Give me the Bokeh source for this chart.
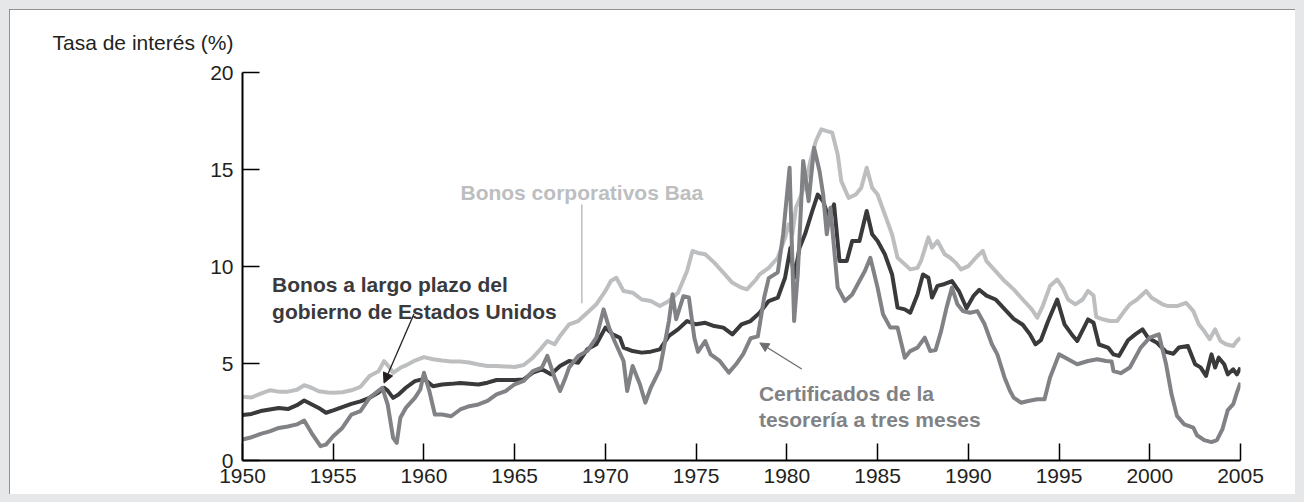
from bokeh.plotting import figure
from bokeh.models import ColumnDataSource, FixedTicker, Label, Arrow, NormalHead
from bokeh.embed import file_html
from bokeh.resources import INLINE

# ---------------- data ----------------
baa_years = [1950.0, 1950.5, 1951.0, 1951.5, 1952.0, 1952.5, 1953.0, 1953.4, 1953.8, 1954.2,
             1954.7, 1955.0, 1955.5, 1956.0, 1956.5, 1957.0, 1957.5, 1957.8, 1958.1, 1958.3,
             1958.7, 1959.0, 1959.5, 1960.0, 1960.5, 1961.0, 1961.5, 1962.0, 1962.5, 1963.0,
             1963.5, 1964.0, 1964.5, 1965.0, 1965.5, 1966.0, 1966.5, 1966.8, 1967.2, 1967.5,
             1968.0, 1968.5, 1969.0, 1969.5, 1970.0, 1970.3, 1970.6, 1971.0, 1971.5, 1972.0,
             1972.5, 1973.0, 1973.5, 1974.0, 1974.5, 1974.8, 1975.1, 1975.5, 1976.0, 1976.5,
             1977.0, 1977.5, 1977.8, 1978.3, 1978.5, 1979.0, 1979.5, 1979.9, 1980.1, 1980.3,
             1980.5, 1980.8, 1981.0, 1981.3, 1981.6, 1981.9, 1982.2, 1982.5, 1982.8, 1983.0,
             1983.4, 1983.8, 1984.1, 1984.4, 1984.7, 1985.0, 1985.4, 1985.8, 1986.1, 1986.4,
             1986.8, 1987.2, 1987.4, 1987.8, 1988.0, 1988.3, 1988.7, 1989.0, 1989.3, 1989.6,
             1990.0, 1990.5, 1990.8, 1991.0, 1991.5, 1992.0, 1992.5, 1993.0, 1993.5, 1993.8,
             1994.1, 1994.5, 1994.9, 1995.2, 1995.5, 1995.9, 1996.3, 1996.6, 1996.9, 1997.05,
             1997.4, 1997.8, 1998.2, 1998.6, 1998.9, 1999.3, 1999.8, 2000.1, 2000.4, 2000.7,
             2001.0, 2001.5, 2002.0, 2002.4, 2002.7, 2003.0, 2003.3, 2003.6, 2003.9, 2004.2,
             2004.6, 2004.8, 2005.0]
baa = [3.28, 3.25, 3.45, 3.62, 3.55, 3.55, 3.65, 3.88, 3.75, 3.57,
       3.50, 3.49, 3.52, 3.62, 3.80, 4.35, 4.60, 5.12, 4.80, 4.52,
       4.78, 4.90, 5.15, 5.33, 5.22, 5.15, 5.10, 5.10, 5.05, 4.95,
       4.87, 4.87, 4.85, 4.82, 4.92, 5.30, 5.82, 6.16, 5.99, 6.42,
       7.02, 7.19, 7.62, 8.05, 8.74, 9.25, 9.42, 8.74, 8.65, 8.30,
       8.22, 7.96, 8.22, 8.65, 9.77, 10.80, 10.70, 10.63, 10.20, 9.68,
       9.16, 8.91, 8.82, 9.33, 9.59, 9.93, 10.45, 11.48, 12.17, 11.65,
       13.03, 13.71, 14.23, 15.44, 16.47, 17.07, 16.98, 16.90, 15.78, 14.40,
       13.54, 13.71, 14.06, 15.09, 14.06, 13.71, 12.68, 11.65, 10.45, 10.20,
       9.85, 9.93, 10.30, 11.50, 10.97, 11.31, 10.63, 10.45, 10.20, 9.85,
       10.02, 10.54, 10.80, 10.28, 9.76, 9.25, 8.82, 8.30, 7.79, 7.36,
       7.96, 8.99, 9.33, 8.91, 8.30, 8.05, 8.30, 8.74, 8.50, 7.40,
       7.28, 7.19, 7.19, 7.70, 8.05, 8.30, 8.74, 8.39, 8.22, 8.05,
       7.96, 7.96, 8.13, 7.70, 7.02, 6.67, 6.25, 6.76, 6.16, 5.99,
       5.90, 6.16, 6.33]

gov_years = [1950.0, 1950.5, 1951.0, 1951.5, 1952.0, 1952.5, 1953.0, 1953.4, 1953.8, 1954.2,
             1954.6, 1955.0, 1955.5, 1956.0, 1956.5, 1957.0, 1957.5, 1957.8, 1958.0, 1958.3,
             1958.6, 1959.0, 1959.5, 1960.0, 1960.5, 1961.0, 1961.5, 1962.0, 1962.5, 1963.0,
             1963.5, 1964.0, 1964.5, 1965.0, 1965.5, 1966.0, 1966.5, 1967.0, 1967.5, 1968.0,
             1968.5, 1969.0, 1969.5, 1970.0, 1970.4, 1970.8, 1971.0, 1971.5, 1972.0, 1972.5,
             1973.0, 1973.5, 1974.0, 1974.5, 1975.0, 1975.5, 1976.0, 1976.5, 1977.0, 1977.5,
             1978.0, 1978.5, 1979.0, 1979.5, 1979.9, 1980.2, 1980.4, 1980.7, 1981.0, 1981.4,
             1981.7, 1982.0, 1982.3, 1982.6, 1982.9, 1983.3, 1983.6, 1984.0, 1984.4, 1984.7,
             1985.0, 1985.4, 1985.8, 1986.1, 1986.5, 1986.8, 1987.2, 1987.5, 1987.8, 1988.0,
             1988.3, 1988.7, 1989.1, 1989.5, 1989.9, 1990.3, 1990.6, 1991.0, 1991.5, 1992.0,
             1992.5, 1993.0, 1993.4, 1993.7, 1994.0, 1994.4, 1994.9, 1995.3, 1995.7, 1996.0,
             1996.4, 1996.6, 1996.9, 1997.2, 1997.7, 1998.0, 1998.3, 1998.8, 1999.2, 1999.6,
             1999.9, 2000.4, 2000.9, 2001.3, 2001.6, 2002.1, 2002.5, 2002.8, 2003.1, 2003.4,
             2003.6, 2003.8, 2004.1, 2004.3, 2004.6, 2004.8, 2005.0]
gov = [2.34, 2.40, 2.55, 2.63, 2.71, 2.65, 2.85, 3.09, 2.90, 2.71,
       2.46, 2.58, 2.75, 2.92, 3.05, 3.23, 3.50, 3.75, 3.60, 3.23,
       3.40, 3.75, 4.09, 4.21, 3.83, 3.92, 3.95, 4.00, 3.96, 3.92,
       4.01, 4.15, 4.15, 4.15, 4.18, 4.53, 4.70, 4.44, 4.87, 5.13,
       5.04, 5.73, 5.99, 6.85, 6.50, 6.33, 5.82, 5.64, 5.56, 5.61,
       5.73, 6.42, 6.76, 7.19, 7.02, 7.10, 6.93, 6.85, 6.50, 7.02,
       7.19, 7.62, 8.22, 8.39, 9.42, 10.97, 9.42, 10.97, 11.66, 12.86,
       13.71, 13.37, 12.51, 13.20, 10.28, 10.28, 11.31, 11.31, 12.86, 11.66,
       11.31, 10.63, 9.59, 7.88, 7.79, 7.62, 8.56, 9.59, 9.42, 8.40,
       9.00, 9.10, 9.25, 8.70, 7.85, 8.50, 8.80, 8.50, 8.30, 7.80,
       7.30, 7.00, 6.50, 5.99, 6.20, 7.19, 8.30, 7.02, 6.50, 6.16,
       6.90, 7.27, 7.10, 5.98, 5.82, 5.47, 5.39, 6.20, 6.50, 6.76,
       6.33, 6.07, 5.60, 5.50, 5.82, 5.90, 4.96, 4.80, 4.36, 5.47,
       4.79, 5.30, 4.96, 4.44, 4.70, 4.44, 4.79]

tbill_years = [1950.0, 1950.5, 1951.0, 1951.5, 1952.0, 1952.5, 1953.0, 1953.4, 1953.8, 1954.3,
               1954.6, 1955.0, 1955.5, 1956.0, 1956.5, 1957.0, 1957.7, 1958.0, 1958.3, 1958.5,
               1958.7, 1959.0, 1959.5, 1959.8, 1960.0, 1960.3, 1960.6, 1961.0, 1961.5, 1962.0,
               1962.5, 1963.0, 1963.5, 1964.0, 1964.5, 1965.0, 1965.5, 1966.0, 1966.5, 1966.8,
               1967.2, 1967.5, 1967.8, 1968.0, 1968.5, 1969.0, 1969.5, 1969.9, 1970.2, 1970.5,
               1971.0, 1971.2, 1971.5, 1971.9, 1972.2, 1972.5, 1973.0, 1973.5, 1973.7, 1973.9,
               1974.3, 1974.6, 1974.9, 1975.1, 1975.5, 1975.8, 1976.3, 1976.8, 1977.2, 1977.6,
               1978.0, 1978.4, 1978.75, 1979.0, 1979.5, 1979.8, 1980.15, 1980.4, 1980.6, 1980.9,
               1981.2, 1981.5, 1981.8, 1982.0, 1982.2, 1982.4, 1982.6, 1982.8, 1983.2, 1983.6,
               1984.0, 1984.3, 1984.6, 1985.0, 1985.3, 1985.7, 1986.1, 1986.5, 1986.8, 1987.2,
               1987.6, 1987.9, 1988.2, 1988.5, 1988.8, 1989.1, 1989.4, 1989.7, 1990.1, 1990.5,
               1990.9, 1991.3, 1991.6, 1992.0, 1992.3, 1992.5, 1992.9, 1993.3, 1993.8, 1994.2,
               1994.5, 1995.0, 1995.5, 1996.0, 1996.6, 1997.1, 1997.6, 1997.9, 1998.0, 1998.4,
               1998.9, 1999.5, 2000.0, 2000.5, 2000.9, 2001.2, 2001.5, 2001.9, 2002.4, 2002.6,
               2003.0, 2003.4, 2003.7, 2004.0, 2004.3, 2004.6, 2004.8, 2005.0]
tbill = [1.08, 1.20, 1.37, 1.50, 1.68, 1.75, 1.86, 2.06, 1.43, 0.74,
         0.82, 1.25, 1.68, 2.37, 2.54, 3.23, 3.75, 2.89, 1.17, 0.91,
         2.20, 2.71, 3.23, 3.66, 4.52, 3.57, 2.37, 2.37, 2.28, 2.63,
         2.80, 2.89, 3.07, 3.41, 3.58, 3.93, 4.10, 4.61, 4.79, 5.39,
         4.27, 3.58, 4.27, 4.79, 5.39, 5.64, 6.33, 7.79, 6.85, 6.16,
         5.13, 3.58, 4.87, 3.93, 2.98, 3.75, 4.70, 7.19, 8.57, 7.28,
         8.47, 8.40, 6.33, 5.60, 6.16, 5.47, 5.13, 4.53, 4.96, 5.50,
         6.30, 6.40, 8.40, 9.40, 9.70, 11.70, 15.09, 7.19, 9.59, 15.44,
         13.37, 16.12, 14.92, 13.71, 11.66, 13.03, 10.97, 8.91, 8.22, 8.56,
         9.25, 9.77, 10.45, 8.91, 7.54, 6.85, 6.85, 5.30, 5.64, 5.82,
         6.33, 5.64, 5.70, 6.67, 7.88, 8.91, 8.05, 7.70, 7.62, 7.70,
         7.02, 5.99, 5.47, 4.27, 3.58, 3.24, 2.98, 3.07, 3.16, 3.16,
         4.27, 5.47, 5.22, 4.96, 5.13, 5.22, 5.13, 5.10, 4.61, 4.50,
         4.79, 5.82, 6.33, 6.50, 4.96, 3.41, 2.30, 1.86, 1.70, 1.30,
         1.05, 0.95, 1.05, 1.60, 2.60, 2.90, 3.50, 4.01]

x_ticks = [1950, 1955, 1960, 1965, 1970, 1975, 1980, 1985, 1990, 1995, 2000, 2005]
y_ticks = [0, 5, 10, 15, 20]

y_title = "Tasa de interés (%)"
label_baa = "Bonos corporativos Baa"
label_gov = ["Bonos a largo plazo del", "gobierno de Estados Unidos"]
label_tbill = ["Certificados de la", "tesorería a tres meses"]

# ---------------- styling ----------------
FONT = "Liberation Sans"
C_BAA = "#bcbec0"
C_GOV = "#3a3a3c"
C_TB = "#808285"
C_TEXT = "#231f20"

p = figure(width=1286, height=485, output_backend="svg", toolbar_location=None,
           x_range=(1950, 2005), y_range=(0, 20),
           min_border_left=233, min_border_right=55, min_border_top=63, min_border_bottom=34,
           background_fill_color="white", border_fill_color="white")
p.styles = {"margin": "9px", "box-shadow": "0 0 0 9px #e6e7e8",
            "outline": "2px solid #6d6e71", "outline-offset": "-2px"}
p.outline_line_color = None
p.grid.visible = False

# title used as the horizontal y-axis caption at top left
p.title.text = y_title
p.title.align = "left"
p.title.offset = -190
p.title.standoff = 38
p.title.text_line_height = 1.0
p.title.text_font = FONT
p.title.text_font_size = "21px"
p.title.text_font_style = "normal"
p.title.text_color = C_TEXT

for ax in (p.xaxis[0], p.yaxis[0]):
    ax.axis_line_color = "black"
    ax.axis_line_width = 2
    ax.major_tick_line_color = "black"
    ax.major_tick_line_width = 1.5
    ax.major_tick_in = 17
    ax.major_tick_out = 0
    ax.minor_tick_line_color = None
    ax.major_label_text_font = FONT
    ax.major_label_text_font_size = "21px"
    ax.major_label_text_color = C_TEXT

p.xaxis[0].ticker = FixedTicker(ticks=x_ticks)
p.yaxis[0].ticker = FixedTicker(ticks=y_ticks)
p.xaxis[0].major_label_standoff = 8
p.yaxis[0].major_label_standoff = 9

src_baa = ColumnDataSource(dict(x=baa_years, y=baa))
src_gov = ColumnDataSource(dict(x=gov_years, y=gov))
src_tb = ColumnDataSource(dict(x=tbill_years, y=tbill))

p.line("x", "y", source=src_baa, line_color=C_BAA, line_width=4, line_join="round")
p.line("x", "y", source=src_gov, line_color=C_GOV, line_width=4, line_join="round")
p.line("x", "y", source=src_tb, line_color=C_TB, line_width=4, line_join="round")

# Baa label + leader line
p.add_layout(Label(x=1968.7, y=13.8, text=label_baa, text_font=FONT, text_font_size="21px",
                   text_font_style="bold", text_color=C_BAA, text_align="center",
                   text_baseline="alphabetic"))
p.add_layout(Arrow(x_start=1968.7, y_start=13.2, x_end=1968.7, y_end=8.1, end=None,
                   line_color=C_BAA, line_width=1.5))

# Government bonds label + arrow
for i, t in enumerate(label_gov):
    p.add_layout(Label(x=1951.63, y=9.08 - i * 1.38, text=t, text_font=FONT,
                       text_font_size="21px", text_font_style="bold", text_color=C_GOV,
                       text_align="left", text_baseline="alphabetic"))
p.add_layout(Arrow(x_start=1959.45, y_start=7.55, x_end=1957.8, y_end=3.99,
                   line_color="#231f20", line_width=1.3,
                   end=NormalHead(size=10, fill_color="#231f20", line_color="#231f20")))

# T-bill label + arrow
for i, t in enumerate(label_tbill):
    p.add_layout(Label(x=1978.46, y=3.43 - i * 1.32, text=t, text_font=FONT,
                       text_font_size="21px", text_font_style="bold", text_color=C_TB,
                       text_align="left", text_baseline="alphabetic"))
p.add_layout(Arrow(x_start=1980.82, y_start=4.72, x_end=1978.51, y_end=6.06,
                   line_color="#6d6e71", line_width=1.3,
                   end=NormalHead(size=9, fill_color="#6d6e71", line_color="#6d6e71")))

open("out.html", "w").write(file_html(p, INLINE))
